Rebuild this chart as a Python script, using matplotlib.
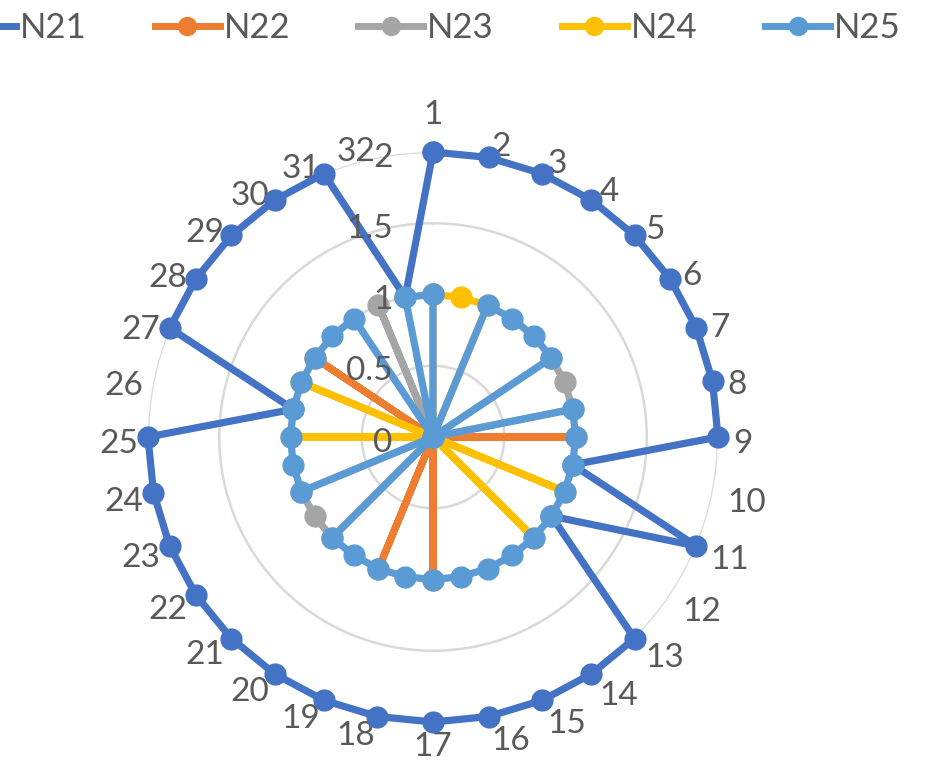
import numpy as np
import matplotlib
matplotlib.use('Agg')
import matplotlib.pyplot as plt
from matplotlib.lines import Line2D

plt.rcParams['font.family'] = ['Lato', 'DejaVu Sans']

categories = [str(i) for i in range(1, 33)]
series_names = ['N21', 'N22', 'N23', 'N24', 'N25']
n21 = [2, 2, 2, 2, 2, 2, 2, 2, 2, 1, 2, 1, 2, 2, 2, 2, 2, 2, 2, 2, 2, 2, 2, 2, 2, 1, 2, 2, 2, 2, 2, 1]
n22 = [0, 0, 0, 0, 0, 0, 0, 0, 1, 0, 0, 0, 0, 0, 0, 0, 1, 0, 1, 0, 0, 0, 0, 0, 0, 0, 0, 1, 0, 0, 0, 0]
n23 = [0, 0, 0, 0, 0, 1, 1, 1, 0, 0, 0, 0, 0, 0, 0, 0, 0, 0, 0, 0, 1, 1, 1, 0, 0, 0, 0, 0, 0, 0, 1, 0]
n24 = [1, 1, 1, 0, 0, 0, 0, 0, 0, 0, 1, 0, 1, 0, 0, 0, 0, 0, 0, 0, 0, 0, 0, 0, 1, 0, 1, 0, 0, 0, 0, 0]
n25 = [1, 0, 1, 1, 1, 1, 0, 1, 1, 1, 1, 1, 1, 1, 1, 1, 1, 1, 1, 1, 1, 0, 1, 1, 1, 1, 1, 1, 1, 1, 0, 1]
value_ticks = [0, 0.5, 1, 1.5, 2]

colors = ['#4472C4', '#ED7D31', '#A5A5A5', '#FFC000', '#5B9BD5']
text_color = '#595959'
grid_color = '#D9D9D9'
fs = 24
R_PX = 285  # radius of the value-2 ring in pixels

fig = plt.figure(figsize=(9.42, 7.78), dpi=100)
# plot area: centre (433, 437) px
ax = fig.add_axes([148 / 942, 56 / 778, 570 / 942, 570 / 778], projection='polar')
ax.set_theta_zero_location('N')
ax.set_theta_direction(-1)

n = len(categories)
angles = np.linspace(0, 2 * np.pi, n, endpoint=False)
ang_closed = np.append(angles, angles[0])

for i, (name, vals, col) in enumerate(zip(series_names, [n21, n22, n23, n24, n25], colors)):
    v = np.append(vals, vals[0])
    ax.plot(ang_closed, v, color=col, lw=5.2, marker='o', ms=15, zorder=4 + i,
            solid_joinstyle='round', solid_capstyle='round', clip_on=False, label=name)

ax.set_ylim(0, 2)
ax.set_yticks(value_ticks[1:])
ax.set_yticklabels([])
ax.set_xticks([])
ax.xaxis.grid(False)
ax.yaxis.grid(True, color=grid_color, lw=1.8)
ax.spines['polar'].set_visible(False)
ax.set_axisbelow(True)

# value axis labels, left of the vertical axis
for t in value_ticks:
    ax.annotate(f'{t:g}', xy=(0, t), xytext=(-29, -4), textcoords='offset points',
                ha='right', va='center', fontsize=fs, color=text_color, zorder=20)

# category labels outside the rings, aligned like Excel
for th, lab in zip(angles, categories):
    s, c = np.sin(th), np.cos(th)
    gap = 10
    dy = 7 - 3 * c  # px downward
    if abs(s) < 0.05:
        ha = 'center'
        va = 'bottom' if c > 0 else 'top'
        dy = 0
        if c > 0:
            gap = 22
    else:
        ha = 'left' if s > 0 else 'right'
        va = 'center'
        if s > 0:
            gap = 15
    r = 2 + gap / R_PX * 2
    ax.annotate(lab, xy=(th, r), xytext=(0, -dy * 0.72), textcoords='offset points',
                ha=ha, va=va, fontsize=fs, color=text_color, annotation_clip=False)

handles = [Line2D([0], [0], color=c, lw=5, marker='o', ms=13) for c in colors]
fig.legend(handles, series_names, loc='center', bbox_to_anchor=(426 / 942, 1 - 28 / 778),
           ncol=5, frameon=False, fontsize=25, labelcolor=text_color,
           handlelength=1.87, handletextpad=0.12, columnspacing=1.95)

fig.savefig('out.png', dpi=100)
